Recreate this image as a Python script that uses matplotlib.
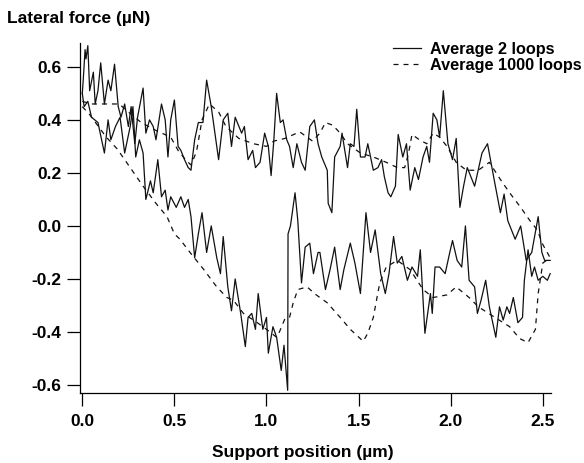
import matplotlib
matplotlib.use("Agg")
import matplotlib.pyplot as plt

plt.rcParams['font.family'] = ['Liberation Sans', 'DejaVu Sans']
plt.rcParams['font.weight'] = 'bold'
plt.rcParams['axes.unicode_minus'] = False

# Average 2 loops - forward branch (upper)
x_up_2 = [0.0, 0.005, 0.015, 0.02, 0.03, 0.04, 0.06, 0.07, 0.085, 0.10, 0.12, 0.14, 0.155,
          0.175, 0.195, 0.21, 0.23, 0.25, 0.265, 0.285, 0.30, 0.33, 0.345, 0.365, 0.385, 0.40,
          0.43, 0.45, 0.465, 0.48, 0.50, 0.52, 0.535, 0.555, 0.575, 0.59, 0.61, 0.63, 0.655,
          0.675, 0.70, 0.74, 0.765, 0.79, 0.81, 0.83, 0.865, 0.88, 0.90, 0.925, 0.94, 0.965,
          0.99, 1.01, 1.025, 1.04, 1.055, 1.075, 1.09, 1.11, 1.125, 1.145, 1.165, 1.19, 1.21,
          1.235, 1.26, 1.28, 1.30, 1.33, 1.335, 1.355, 1.37, 1.40, 1.41, 1.44, 1.455, 1.475,
          1.49, 1.51, 1.535, 1.55, 1.58, 1.605, 1.625, 1.64, 1.66, 1.675, 1.70, 1.715, 1.74,
          1.76, 1.78, 1.805, 1.825, 1.85, 1.87, 1.885, 1.905, 1.925, 1.94, 1.96, 1.985, 2.01,
          2.03, 2.05, 2.07, 2.09, 2.13, 2.17, 2.20, 2.24, 2.27, 2.29, 2.31, 2.35, 2.38, 2.41,
          2.44, 2.475, 2.495, 2.51, 2.54]
y_up_2 = [0.50, 0.55, 0.665, 0.63, 0.68, 0.51, 0.58, 0.46, 0.51, 0.615, 0.46, 0.55, 0.51,
          0.61, 0.45, 0.41, 0.46, 0.375, 0.45, 0.31, 0.41, 0.52, 0.35, 0.40, 0.375, 0.325,
          0.46, 0.40, 0.26, 0.40, 0.475, 0.30, 0.285, 0.25, 0.22, 0.21, 0.325, 0.39, 0.39,
          0.55, 0.45, 0.25, 0.40, 0.425, 0.30, 0.41, 0.35, 0.375, 0.25, 0.285, 0.22, 0.24,
          0.35, 0.30, 0.19, 0.325, 0.50, 0.39, 0.40, 0.325, 0.30, 0.22, 0.31, 0.24, 0.21,
          0.375, 0.40, 0.31, 0.26, 0.21, 0.085, 0.05, 0.26, 0.30, 0.35, 0.22, 0.31, 0.30,
          0.44, 0.26, 0.26, 0.31, 0.21, 0.22, 0.25, 0.185, 0.125, 0.11, 0.15, 0.345, 0.26,
          0.31, 0.135, 0.22, 0.175, 0.26, 0.30, 0.24, 0.425, 0.40, 0.335, 0.51, 0.31, 0.25,
          0.33, 0.07, 0.15, 0.22, 0.15, 0.275, 0.31, 0.16, 0.05, 0.12, 0.02, -0.05, 0.0, -0.13,
          -0.10, 0.035, -0.10, -0.13, -0.13]

# Average 2 loops - return branch (lower)
x_lo_2 = [0.0, 0.01, 0.03, 0.05, 0.085, 0.12, 0.14, 0.155, 0.18, 0.205, 0.23, 0.26, 0.275,
          0.29, 0.31, 0.33, 0.345, 0.37, 0.385, 0.41, 0.43, 0.45, 0.465, 0.48, 0.51, 0.535,
          0.555, 0.575, 0.59, 0.61, 0.63, 0.65, 0.675, 0.70, 0.73, 0.75, 0.765, 0.79, 0.81,
          0.83, 0.86, 0.885, 0.90, 0.92, 0.94, 0.955, 0.98, 1.00, 1.01, 1.035, 1.055, 1.08,
          1.095, 1.115, 1.117, 1.13, 1.155, 1.17, 1.19, 1.21, 1.235, 1.255, 1.28, 1.29, 1.32,
          1.345, 1.37, 1.40, 1.42, 1.455, 1.48, 1.51, 1.54, 1.565, 1.59, 1.62, 1.645, 1.665,
          1.69, 1.71, 1.735, 1.765, 1.79, 1.82, 1.835, 1.86, 1.89, 1.90, 1.915, 1.94, 1.97,
          1.995, 2.01, 2.035, 2.06, 2.08, 2.10, 2.13, 2.145, 2.165, 2.19, 2.21, 2.245, 2.265,
          2.285, 2.305, 2.32, 2.34, 2.365, 2.39, 2.40, 2.42, 2.44, 2.455, 2.475, 2.50, 2.525,
          2.54]
y_lo_2 = [0.50, 0.45, 0.47, 0.41, 0.39, 0.275, 0.40, 0.325, 0.375, 0.41, 0.275, 0.375, 0.45,
          0.26, 0.325, 0.275, 0.10, 0.17, 0.125, 0.25, 0.11, 0.135, 0.06, 0.11, 0.07, 0.11,
          0.07, 0.10, 0.035, -0.12, -0.03, 0.05, -0.10, 0.0, -0.12, -0.18, -0.04, -0.23, -0.32,
          -0.20, -0.33, -0.455, -0.345, -0.33, -0.39, -0.255, -0.39, -0.345, -0.48, -0.38,
          -0.42, -0.545, -0.45, -0.62, -0.03, 0.0, 0.125, 0.02, -0.215, -0.08, -0.065, -0.18,
          -0.10, -0.10, -0.24, -0.165, -0.08, -0.24, -0.165, -0.065, -0.14, -0.255, 0.05, -0.10,
          -0.015, -0.18, -0.255, -0.18, -0.04, -0.14, -0.115, -0.205, -0.155, -0.19, -0.09,
          -0.405, -0.255, -0.33, -0.155, -0.155, -0.18, -0.10, -0.055, -0.13, -0.155, 0.0,
          -0.205, -0.23, -0.33, -0.28, -0.205, -0.305, -0.42, -0.305, -0.355, -0.305, -0.33,
          -0.27, -0.365, -0.345, -0.205, -0.09, -0.19, -0.155, -0.205, -0.19, -0.205, -0.18]

# Average 1000 loops - upper branch
x_up_1000 = [0.0, 0.05, 0.11, 0.2, 0.25, 0.32, 0.40, 0.48, 0.52, 0.56, 0.59, 0.62, 0.65, 0.69,
             0.74, 0.78, 0.85, 0.93, 1.0, 1.04, 1.10, 1.18, 1.25, 1.29, 1.32, 1.36, 1.40, 1.44,
             1.51, 1.58, 1.65, 1.71, 1.75, 1.77, 1.79, 1.83, 1.87, 1.905, 1.94, 1.98, 2.03,
             2.085, 2.15, 2.21, 2.27, 2.32, 2.38, 2.43, 2.47, 2.50, 2.54]
y_up_1000 = [0.47, 0.46, 0.46, 0.46, 0.43, 0.39, 0.36, 0.335, 0.285, 0.25, 0.23, 0.28, 0.40,
             0.46, 0.43, 0.375, 0.33, 0.31, 0.30, 0.32, 0.33, 0.355, 0.32, 0.35, 0.39, 0.38,
             0.35, 0.31, 0.275, 0.26, 0.24, 0.22, 0.22, 0.27, 0.345, 0.325, 0.31, 0.35, 0.335,
             0.30, 0.24, 0.21, 0.21, 0.24, 0.175, 0.125, 0.07, 0.02, -0.015, -0.07, -0.12]

# Average 1000 loops - lower branch
x_lo_1000 = [0.0, 0.04, 0.13, 0.19, 0.28, 0.33, 0.40, 0.46, 0.50, 0.53, 0.585, 0.66, 0.73,
             0.785, 0.82, 0.875, 0.95, 1.0, 1.055, 1.07, 1.10, 1.125, 1.145, 1.17, 1.22, 1.27,
             1.33, 1.40, 1.455, 1.525, 1.55, 1.58, 1.60, 1.615, 1.65, 1.71, 1.78, 1.85, 1.905,
             1.98, 2.03, 2.10, 2.15, 2.24, 2.32, 2.375, 2.42, 2.46, 2.475, 2.50, 2.54]
y_lo_1000 = [0.45, 0.42, 0.335, 0.29, 0.20, 0.15, 0.085, 0.035, -0.03, -0.05, -0.10, -0.165,
             -0.23, -0.27, -0.28, -0.33, -0.365, -0.39, -0.42, -0.40, -0.35, -0.345, -0.29,
             -0.24, -0.23, -0.26, -0.29, -0.345, -0.39, -0.435, -0.405, -0.345, -0.27, -0.215,
             -0.155, -0.13, -0.165, -0.24, -0.27, -0.26, -0.23, -0.27, -0.305, -0.345, -0.38,
             -0.425, -0.44, -0.39, -0.255, -0.14, -0.12]

x_ticks = [0.0, 0.5, 1.0, 1.5, 2.0, 2.5]
y_ticks = [-0.6, -0.4, -0.2, 0.0, 0.2, 0.4, 0.6]

fig = plt.figure(figsize=(5.84, 4.63), dpi=100)
ax = fig.add_axes([80 / 584, 1 - 392.7 / 463, 470.7 / 584, 349.7 / 463])

ax.plot(x_up_2, y_up_2, color='#111111', lw=0.9, label='Average 2 loops')
ax.plot(x_lo_2, y_lo_2, color='#111111', lw=0.9)
ax.plot(x_up_1000, y_up_1000, color='#111111', lw=0.9, linestyle=(0, (4, 4)),
        label='Average 1000 loops')
ax.plot(x_lo_1000, y_lo_1000, color='#111111', lw=0.9, linestyle=(0, (4, 4)))

ax.set_xlim(-0.0125, 2.543)
ax.set_ylim(-0.629, 0.69)
ax.set_xticks(x_ticks)
ax.set_xticklabels([f"{v:.1f}" for v in x_ticks])
ax.set_yticks(y_ticks)
ax.set_yticklabels([f"{v:.1f}" for v in y_ticks])
ax.tick_params(axis='both', direction='out', length=9.4, width=0.9, labelsize=12.5)
ax.tick_params(axis='y', pad=4.0)
ax.tick_params(axis='x', pad=6)

for side in ['top', 'right']:
    ax.spines[side].set_visible(False)
for side in ['left', 'bottom']:
    ax.spines[side].set_linewidth(0.9)

fig.text(7 / 584, 1 - 18 / 463, 'Lateral force (µN)', fontsize=12.5, fontweight='bold',
         ha='left', va='center')
fig.text(303 / 584, 1 - 452 / 463, 'Support position (µm)', fontsize=12.5, fontweight='bold',
         ha='center', va='center')

fig.legend(loc='upper right', bbox_to_anchor=(1.0 + 6 / 584, 1 - 34 / 463), frameon=False,
           fontsize=11.7, handlelength=1.7, handletextpad=0.6, labelspacing=0.05,
           borderaxespad=0.1)

fig.savefig('out.png', dpi=100)
